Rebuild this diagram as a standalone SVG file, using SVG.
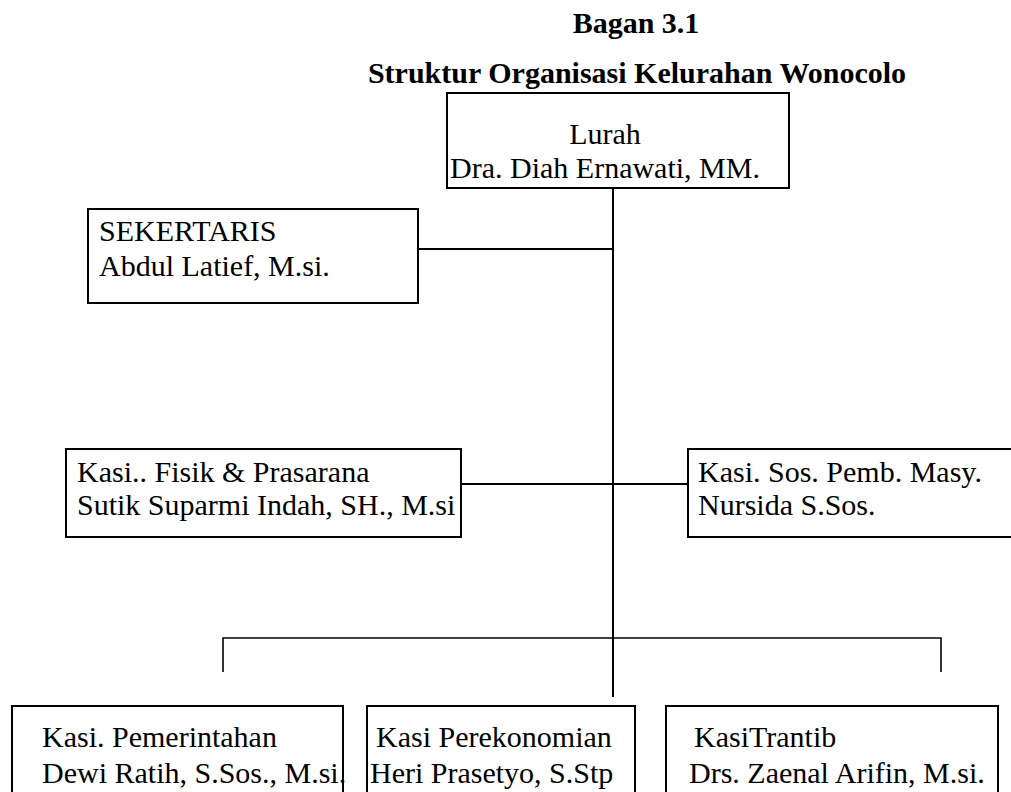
<svg xmlns="http://www.w3.org/2000/svg" width="1011" height="792" viewBox="0 0 1011 792">
<style>
.box{fill:#fff;stroke:#000;stroke-width:2}
.t{font-family:"Liberation Serif","Times New Roman",serif;font-size:30px;fill:#000}
.title{font-family:"Liberation Serif","Times New Roman",serif;font-size:30px;font-weight:bold;fill:#000;text-anchor:middle}
.c{fill:none;stroke:#000;stroke-width:2}
.c2{fill:none;stroke:#000;stroke-width:1.6}
</style>
<rect width="1011" height="792" fill="#fff"/>
<g id="title">
<text class="title" x="636" y="33">Bagan 3.1</text>
<text class="title" x="637" y="83">Struktur Organisasi Kelurahan Wonocolo</text>
</g>
<g id="connectors">
<line class="c" x1="613" y1="188" x2="613" y2="697"/>
<line class="c" x1="418" y1="249" x2="613" y2="249"/>
<line class="c" x1="461" y1="484" x2="688" y2="484"/>
<polyline class="c2" points="223,672 223,638 941,638 941,672"/>
</g>
<g id="lurah">
<rect class="box" x="447" y="93" width="342" height="95"/>
<text class="t" x="605" y="144" text-anchor="middle">Lurah</text>
<text class="t" x="605" y="178" text-anchor="middle">Dra. Diah Ernawati, MM.</text>
</g>
<g id="sekertaris">
<rect class="box" x="88" y="209" width="330" height="94"/>
<text class="t" x="99" y="241">SEKERTARIS</text>
<text class="t" x="99" y="276">Abdul Latief, M.si.</text>
</g>
<g id="fisik">
<rect class="box" x="66" y="449" width="395" height="88"/>
<text class="t" x="77" y="482">Kasi.. Fisik &amp; Prasarana</text>
<text class="t" x="77" y="515">Sutik Suparmi Indah, SH., M.si</text>
</g>
<g id="sosial">
<rect class="box" x="688" y="449" width="340" height="88"/>
<text class="t" x="698" y="482">Kasi. Sos. Pemb. Masy.</text>
<text class="t" x="698" y="515">Nursida S.Sos.</text>
</g>
<g id="pemerintahan">
<rect class="box" x="12" y="706" width="331" height="100"/>
<text class="t" x="42" y="747">Kasi. Pemerintahan</text>
<text class="t" x="42" y="783">Dewi Ratih, S.Sos., M.si.</text>
</g>
<g id="perekonomian">
<rect class="box" x="367" y="706" width="268" height="100"/>
<text class="t" x="376" y="747">Kasi Perekonomian</text>
<text class="t" x="370" y="783">Heri Prasetyo, S.Stp</text>
</g>
<g id="trantib">
<rect class="box" x="666" y="706" width="332" height="100"/>
<text class="t" x="694" y="747">KasiTrantib</text>
<text class="t" x="689" y="783">Drs. Zaenal Arifin, M.si.</text>
</g>
</svg>
